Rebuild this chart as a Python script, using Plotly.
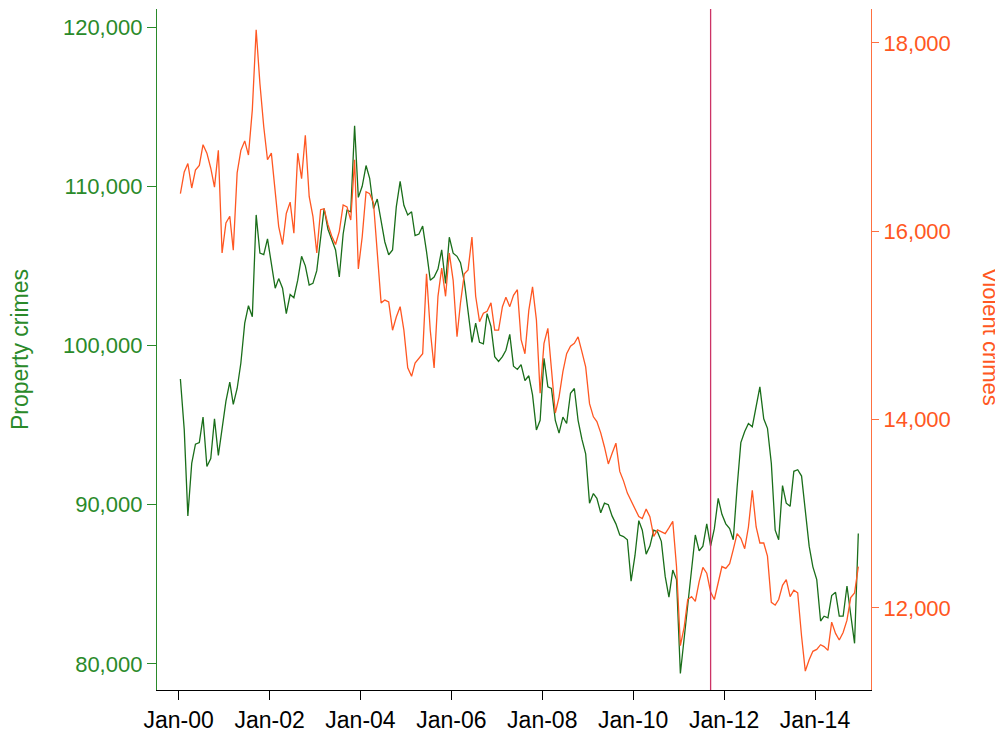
import plotly.graph_objects as go

# Monthly observations, Jan 2000 - Dec 2014
months = [f"{2000 + m // 12}-{m % 12 + 1:02d}-15" for m in range(180)]

property_crimes = [
    97900, 94700, 89300, 92600, 93800, 93900, 95500, 92400, 92900, 95400, 93100, 94900,
    96500, 97700, 96300, 97300, 98900, 101400, 102500, 101800, 108200, 105800, 105700, 106700,
    105000, 103600, 104200, 103600, 102000, 103200, 103000, 104100, 105600, 105000, 103800, 103900,
    104700, 106700, 108600, 107300, 106700, 106000, 104300, 107000, 108500, 108400, 113800, 109300,
    110000, 111300, 110500, 108600, 109200, 107800, 106500, 105700, 106000, 108700, 110300, 108800,
    108200, 108400, 106900, 107000, 107500, 105900, 104100, 104300, 104800, 106000, 103900, 106800,
    105800, 105600, 105200, 104000, 102200, 100200, 101400, 100200, 100100, 102000, 101200, 99300,
    99000, 99300, 99700, 100700, 98700, 98500, 98800, 97800, 98100, 96900, 94700, 95300,
    99200, 97400, 97300, 95300, 94500, 95500, 95100, 97000, 97300, 95300, 94100, 93200,
    90100, 90700, 90400, 89500, 90100, 90000, 89300, 88800, 88100, 88000, 87800, 85200,
    86800, 89000, 88400, 86900, 87400, 88400, 88300, 87700, 85500, 84200, 85900, 85300,
    79400, 81700, 83700, 85700, 88100, 87100, 87400, 88800, 87400, 88500, 90400, 89400,
    88800, 88500, 87800, 91100, 93900, 94600, 95100, 94900, 96300, 97400, 95400, 94800,
    92600, 88400, 87800, 91200, 90100, 89900, 92100, 92200, 91800, 89500, 87400, 86100,
    85300, 82700, 83000, 82900, 84300, 84500, 83000, 83000, 84900, 83100, 81300, 88200,
]

violent_crimes = [
    16400, 16630, 16720, 16460, 16650, 16700, 16920, 16830, 16670, 16470, 16860, 15770,
    16090, 16160, 15800, 16620, 16860, 16960, 16810, 17290, 18140, 17570, 17110, 16760,
    16830, 16440, 16050, 15860, 16190, 16310, 15980, 16830, 16560, 17020, 16370, 16160,
    15770, 16230, 16240, 16070, 15950, 15860, 16000, 16280, 16260, 16120, 16760, 15600,
    15940, 16420, 16400, 16300, 15770, 15240, 15270, 15250, 14950, 15090, 15200, 14950,
    14550, 14460, 14600, 14650, 14700, 15550, 14950, 14550, 15310, 15610, 15310, 15770,
    15480, 14880, 15240, 15550, 15590, 15940, 15310, 15040, 15130, 15150, 15240, 14950,
    14950, 15200, 15300, 15200, 15320, 15380, 14850, 14700, 15160, 15410, 15060, 14280,
    14810, 14970, 14560, 14070, 14240, 14510, 14700, 14780, 14810, 14880, 14720, 14560,
    14170, 14030, 13980, 13860, 13710, 13530, 13640, 13750, 13450, 13350, 13220, 13140,
    13060, 12970, 12950, 13050, 12970, 12760, 12830, 12810, 12790, 12850, 12920, 12440,
    11600, 11800, 12090, 12120, 12070, 12280, 12430, 12370, 12170, 12090, 12260, 12440,
    12420, 12470, 12620, 12790, 12740, 12630, 12860, 13250, 12860, 12690, 12690, 12550,
    12060, 12030, 12090, 12240, 12300, 12120, 12190, 12160, 11700, 11330, 11450, 11540,
    11560, 11610, 11590, 11550, 11850, 11730, 11660, 11740, 11870, 12110, 12160, 12440,
]

x_tick_dates = [f"{y}-01-01" for y in range(2000, 2015, 2)]
x_tick_labels = ["Jan-00", "Jan-02", "Jan-04", "Jan-06", "Jan-08", "Jan-10", "Jan-12", "Jan-14"]
left_ticks = [80000, 90000, 100000, 110000, 120000]
right_ticks = [12000, 14000, 16000, 18000]
event_date = "2011-09-15"

GREEN = "#1a6e1a"
GREEN_TXT = "#2a8a2a"
ORANGE = "#ff5722"
ORANGE_AX = "#ff7040"
FONT = "Liberation Sans, Arial, sans-serif"
FS = 22

# page has an 8px body margin; plot area should sit at x 157..871, y 9..690 in the window
OFF = 8
L, T = 157 - OFF, 9 - OFF
PW, PH = 714, 681
R = 1003 - L - PW
B = 734 - T - PH

fig = go.Figure()
fig.add_trace(go.Scatter(x=months, y=property_crimes, mode="lines",
                         line=dict(color=GREEN, width=1.3), name="Property crimes"))
fig.add_trace(go.Scatter(x=months, y=violent_crimes, mode="lines", yaxis="y2",
                         line=dict(color=ORANGE, width=1.3), name="Violent crimes"))

fig.add_shape(type="line", xref="x", yref="paper", x0=event_date, x1=event_date,
              y0=0, y1=1, line=dict(color="#cc3366", width=1.3))


def px_x(x):
    return (x - OFF - L) / PW


def px_y(y):
    return (T + PH - (y - OFF)) / PH


fig.update_layout(
    width=1003, height=734,
    margin=dict(l=L, r=R, t=T, b=B, autoexpand=False),
    paper_bgcolor="white", plot_bgcolor="white",
    showlegend=False,
    font=dict(family=FONT, size=FS, color="black"),
    xaxis=dict(
        type="date", range=["1999-07-11", "2015-03-27"],
        tickvals=x_tick_dates, ticktext=x_tick_labels,
        showgrid=False, zeroline=False,
        showline=True, linecolor="black", linewidth=1.3,
        ticks="outside", ticklen=9, tickcolor="black", tickwidth=1.3,
        tickfont=dict(size=23, color="black"),
    ),
    yaxis=dict(
        range=[78367, 121130], tickvals=left_ticks, tickformat=",",
        showgrid=False, zeroline=False,
        showline=True, linecolor=GREEN_TXT, linewidth=1.3,
        ticks="outside", ticklen=9, tickcolor=GREEN_TXT, tickwidth=1.3,
        tickfont=dict(size=FS, color=GREEN_TXT),
    ),
    yaxis2=dict(
        range=[11129, 18361], tickvals=right_ticks, tickformat=",",
        overlaying="y", side="right", anchor="x",
        showgrid=False, zeroline=False,
        showline=True, linecolor=ORANGE_AX, linewidth=1.3,
        ticks="outside", ticklen=7, tickcolor=ORANGE_AX, tickwidth=1.3,
        tickfont=dict(size=FS, color=ORANGE),
    ),
    annotations=[
        dict(text="Property crimes", x=px_x(20), y=px_y(350), xref="paper", yref="paper",
             xanchor="center", yanchor="middle",
             showarrow=False, textangle=-90, font=dict(size=23, color=GREEN_TXT)),
        dict(text="Violent crimes", x=px_x(991), y=px_y(337), xref="paper", yref="paper",
             xanchor="center", yanchor="middle",
             showarrow=False, textangle=90, font=dict(size=FS, color=ORANGE)),
    ],
)

fig.write_html("out.html")
